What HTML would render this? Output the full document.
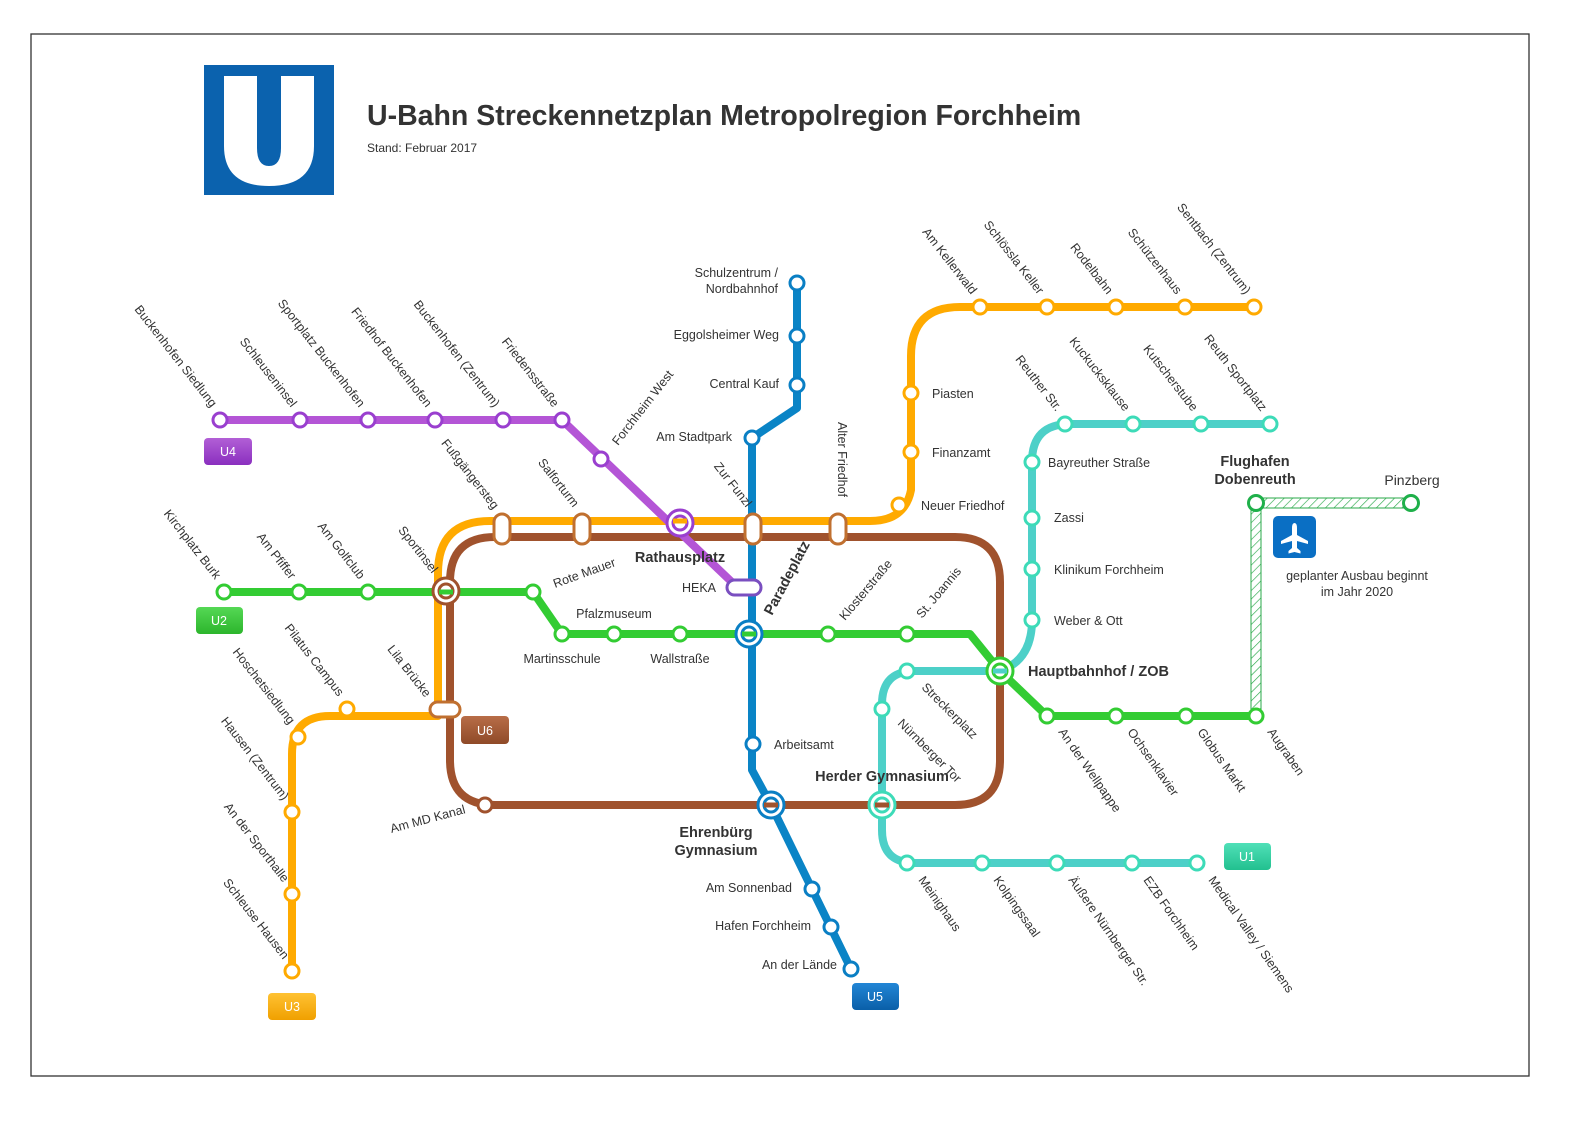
<!DOCTYPE html>
<html><head><meta charset="utf-8"><style>
html,body{margin:0;padding:0;background:#fff;overflow:hidden;width:1587px;height:1123px}
svg{display:block;position:absolute;left:0;top:0}
text{font-family:"Liberation Sans",sans-serif;font-size:12.5px;fill:#333}
.b{font-weight:bold;font-size:14.5px;fill:#333}
.s{fill:#fff;stroke-width:3}
.pu{stroke:#9a3fcf}.or{stroke:#ffaa00}.br{stroke:#a0522d}.gr{stroke:#33cc33}.bl{stroke:#0a7fc4}.te{stroke:#3ddbb8}
.ln{fill:none;stroke-width:8;stroke-linejoin:round}
</style></head><body>
<svg width="1587" height="1123" viewBox="0 0 1587 1123" xmlns="http://www.w3.org/2000/svg">
<defs>
<pattern id="h" width="6" height="6" patternUnits="userSpaceOnUse" patternTransform="rotate(45)"><rect width="6" height="6" fill="#fff"/><line x1="0" y1="0" x2="0" y2="6" stroke="#2aa84a" stroke-width="1.3"/></pattern>
<linearGradient id="gpu" x1="0" y1="0" x2="0" y2="1"><stop offset="0" stop-color="#b25fd6"/><stop offset="1" stop-color="#8a2fbf"/></linearGradient>
<linearGradient id="ggr" x1="0" y1="0" x2="0" y2="1"><stop offset="0" stop-color="#55d855"/><stop offset="1" stop-color="#2cb52c"/></linearGradient>
<linearGradient id="gbr" x1="0" y1="0" x2="0" y2="1"><stop offset="0" stop-color="#b86d48"/><stop offset="1" stop-color="#8f4a28"/></linearGradient>
<linearGradient id="gor" x1="0" y1="0" x2="0" y2="1"><stop offset="0" stop-color="#ffc233"/><stop offset="1" stop-color="#f0a000"/></linearGradient>
<linearGradient id="gbl" x1="0" y1="0" x2="0" y2="1"><stop offset="0" stop-color="#2286d6"/><stop offset="1" stop-color="#0a5fa8"/></linearGradient>
<linearGradient id="gte" x1="0" y1="0" x2="0" y2="1"><stop offset="0" stop-color="#50e0b8"/><stop offset="1" stop-color="#22c08f"/></linearGradient>
</defs>
<rect x="31" y="34" width="1498" height="1042" fill="none" stroke="#333" stroke-width="1.3"/>
<!-- logo -->
<rect x="204" y="65" width="130" height="130" fill="#0b62ae"/>
<path d="M224 76 H257 V148 Q257 166 269 166 Q281 166 281 148 V76 H314 V146 Q314 186 269 186 Q224 186 224 146 Z" fill="#fff"/>
<text x="367" y="125" style="font-size:28.5px;font-weight:bold;fill:#333">U-Bahn Streckennetzplan  Metropolregion Forchheim</text>
<text x="367" y="152" style="font-size:12px">Stand:  Februar 2017</text>

<!-- airport planned -->
<rect x="1251" y="498" width="160" height="10" fill="url(#h)" stroke="#2aa84a" stroke-width="1"/>
<rect x="1251" y="503" width="10" height="213" fill="url(#h)" stroke="#2aa84a" stroke-width="1"/>
<rect x="1273" y="516" width="43" height="42" rx="5" fill="#0a6fc4"/>
<path d="M1294.5 523 q2.5 0 2.5 5 v7 l11 6 v3 l-11 -3 v7 l3.5 3 v2.5 l-6 -1.5 l-6 1.5 v-2.5 l3.5 -3 v-7 l-11 3 v-3 l11 -6 v-7 q0 -5 2.5 -5 z" fill="#fff"/>
<text x="1357" y="580" text-anchor="middle">geplanter Ausbau beginnt</text>
<text x="1357" y="596" text-anchor="middle">im Jahr 2020</text>

<!-- lines -->
<path class="ln" stroke="#a0522d" d="M495 537 H955 Q1000 537 1000 582 V760 Q1000 805 955 805 H495 Q450 805 450 760 V582 Q450 537 495 537 Z"/>
<path class="ln" stroke="#ffaa00" d="M1254 307 H960 Q911 307 911 356 V490 Q905 521 870 521 H490 Q438 521 438 573 V716 H330 Q292 716 292 754 V971"/>
<path class="ln" stroke="#b455d6" d="M220 420 H562 L737 587"/>
<path class="ln" stroke="#0a84c6" d="M797 283 V408 L752 438 V770 L771 805 L851 969"/>
<path class="ln" stroke="#33cc33" d="M224 592 H533 L562 634 H970 L1000 671 L1047 716 H1256"/>
<path class="ln" stroke="#4dd0c8" d="M1270 424 H1070 Q1032 424 1032 462 V620 Q1032 660 1000 671 H915 Q882 671 882 704 V830 Q882 863 915 863 H1197"/>

<g class="s pu">
<circle cx="220" cy="420" r="7"/><circle cx="300" cy="420" r="7"/><circle cx="368" cy="420" r="7"/><circle cx="435" cy="420" r="7"/><circle cx="503" cy="420" r="7"/><circle cx="562" cy="420" r="7"/><circle cx="601" cy="459" r="7"/>
</g>
<g class="s or">
<circle cx="980" cy="307" r="7"/><circle cx="1047" cy="307" r="7"/><circle cx="1116" cy="307" r="7"/><circle cx="1185" cy="307" r="7"/><circle cx="1254" cy="307" r="7"/>
<circle cx="911" cy="393" r="7"/><circle cx="911" cy="452" r="7"/><circle cx="899" cy="505" r="7"/>
<circle cx="347" cy="709" r="7"/><circle cx="298" cy="737" r="7"/><circle cx="292" cy="812" r="7"/><circle cx="292" cy="894" r="7"/><circle cx="292" cy="971" r="7"/>
</g>
<g fill="#fff" stroke-width="3">
<rect x="494" y="514" width="16" height="30" rx="8" stroke="#c07030"/>
<rect x="574" y="514" width="16" height="30" rx="8" stroke="#c07030"/>
<rect x="745" y="514" width="16" height="30" rx="8" stroke="#c07030"/>
<rect x="830" y="514" width="16" height="30" rx="8" stroke="#c07030"/>
<rect x="430" y="702" width="30" height="15" rx="7.5" stroke="#c07030"/>
<rect x="727" y="580" width="34" height="15" rx="7.5" stroke="#7a4fc0"/>
</g>
<g class="s gr">
<circle cx="224" cy="592" r="7"/><circle cx="299" cy="592" r="7"/><circle cx="368" cy="592" r="7"/><circle cx="533" cy="592" r="7"/><circle cx="562" cy="634" r="7"/><circle cx="614" cy="634" r="7"/><circle cx="680" cy="634" r="7"/><circle cx="828" cy="634" r="7"/><circle cx="907" cy="634" r="7"/><circle cx="1047" cy="716" r="7"/><circle cx="1116" cy="716" r="7"/><circle cx="1186" cy="716" r="7"/><circle cx="1256" cy="716" r="7"/>
</g>
<g class="s" stroke="#1fb04a"><circle cx="1256" cy="503" r="7.5"/><circle cx="1411" cy="503" r="7.5"/></g>
<g class="s bl">
<circle cx="797" cy="283" r="7"/><circle cx="797" cy="336" r="7"/><circle cx="797" cy="385" r="7"/><circle cx="752" cy="438" r="7"/><circle cx="753" cy="744" r="7"/><circle cx="812" cy="889" r="7"/><circle cx="831" cy="927" r="7"/><circle cx="851" cy="969" r="7"/>
</g>
<g class="s te">
<circle cx="1270" cy="424" r="7"/><circle cx="1201" cy="424" r="7"/><circle cx="1133" cy="424" r="7"/><circle cx="1065" cy="424" r="7"/><circle cx="1032" cy="462" r="7"/><circle cx="1032" cy="518" r="7"/><circle cx="1032" cy="569" r="7"/><circle cx="1032" cy="620" r="7"/><circle cx="907" cy="671" r="7"/><circle cx="882" cy="709" r="7"/><circle cx="907" cy="863" r="7"/><circle cx="982" cy="863" r="7"/><circle cx="1057" cy="863" r="7"/><circle cx="1132" cy="863" r="7"/><circle cx="1197" cy="863" r="7"/>
</g>
<circle class="s br" cx="485" cy="805" r="7"/>
<g fill="none" stroke-width="3">
<circle cx="680" cy="523" r="13" stroke="#9a3fcf" fill="#fff"/><circle cx="680" cy="523" r="7" stroke="#9a3fcf"/><line x1="673" y1="521" x2="687" y2="521" stroke="#ffaa00" stroke-width="5"/>
<circle cx="446" cy="591" r="13" stroke="#a0522d" fill="#fff"/><circle cx="446" cy="591" r="7" stroke="#a0522d"/><line x1="439" y1="592" x2="453" y2="592" stroke="#33cc33" stroke-width="5"/>
<circle cx="749" cy="634" r="13" stroke="#0a7fc4" fill="#fff"/><circle cx="749" cy="634" r="7" stroke="#0a7fc4"/><line x1="742" y1="634" x2="756" y2="634" stroke="#33cc33" stroke-width="5"/>
<circle cx="1000" cy="671" r="13" stroke="#33cc33" fill="#fff"/><circle cx="1000" cy="671" r="7" stroke="#33cc33"/><line x1="993" y1="671" x2="1007" y2="671" stroke="#4dd0c8" stroke-width="5"/>
<circle cx="771" cy="805" r="13" stroke="#0a7fc4" fill="#fff"/><circle cx="771" cy="805" r="7" stroke="#0a7fc4"/><line x1="764" y1="805" x2="778" y2="805" stroke="#a0522d" stroke-width="5"/>
<circle cx="882" cy="805" r="13" stroke="#3ddbb8" fill="#fff"/><circle cx="882" cy="805" r="7" stroke="#3ddbb8"/><line x1="875" y1="805" x2="889" y2="805" stroke="#a0522d" stroke-width="5"/>
</g>

<g style="font-size:12px">
<rect x="204" y="438" width="48" height="27" rx="4" fill="url(#gpu)"/><text x="228" y="456" text-anchor="middle" style="fill:#fff">U4</text>
<rect x="196" y="607" width="47" height="27" rx="4" fill="url(#ggr)"/><text x="219" y="625" text-anchor="middle" style="fill:#fff">U2</text>
<rect x="461" y="716" width="48" height="28" rx="4" fill="url(#gbr)"/><text x="485" y="735" text-anchor="middle" style="fill:#fff">U6</text>
<rect x="268" y="993" width="48" height="27" rx="4" fill="url(#gor)"/><text x="292" y="1011" text-anchor="middle" style="fill:#fff">U3</text>
<rect x="852" y="983" width="47" height="27" rx="4" fill="url(#gbl)"/><text x="875" y="1001" text-anchor="middle" style="fill:#fff">U5</text>
<rect x="1224" y="843" width="47" height="27" rx="4" fill="url(#gte)"/><text x="1247" y="861" text-anchor="middle" style="fill:#fff">U1</text>
</g>

<text class="b" x="680" y="562" text-anchor="middle">Rathausplatz</text>
<text class="b" transform="translate(772,616) rotate(-62)">Paradeplatz</text>
<text class="b" x="1028" y="676">Hauptbahnhof / ZOB</text>
<text class="b" x="882" y="781" text-anchor="middle">Herder Gymnasium</text>
<text class="b" x="716" y="837" text-anchor="middle">Ehrenbürg</text>
<text class="b" x="716" y="855" text-anchor="middle">Gymnasium</text>
<text class="b" x="1255" y="466" text-anchor="middle">Flughafen</text>
<text class="b" x="1255" y="484" text-anchor="middle">Dobenreuth</text>
<text x="1412" y="485" text-anchor="middle" style="font-size:14px">Pinzberg</text>

<text x="778" y="277" text-anchor="end">Schulzentrum /</text>
<text x="778" y="293" text-anchor="end">Nordbahnhof</text>
<text x="779" y="339" text-anchor="end">Eggolsheimer Weg</text>
<text x="779" y="388" text-anchor="end">Central Kauf</text>
<text x="732" y="441" text-anchor="end">Am Stadtpark</text>
<text x="716" y="592" text-anchor="end">HEKA</text>
<text x="774" y="749">Arbeitsamt</text>
<text x="792" y="892" text-anchor="end">Am Sonnenbad</text>
<text x="811" y="930" text-anchor="end">Hafen Forchheim</text>
<text x="837" y="969" text-anchor="end">An der Lände</text>
<text x="614" y="618" text-anchor="middle">Pfalzmuseum</text>
<text x="562" y="663" text-anchor="middle">Martinsschule</text>
<text x="680" y="663" text-anchor="middle">Wallstraße</text>
<text x="932" y="398">Piasten</text>
<text x="932" y="457">Finanzamt</text>
<text x="921" y="510">Neuer Friedhof</text>
<text x="1048" y="467">Bayreuther Straße</text>
<text x="1054" y="522">Zassi</text>
<text x="1054" y="574">Klinikum Forchheim</text>
<text x="1054" y="625">Weber &amp; Ott</text>

<g text-anchor="end">
<text transform="translate(211,408) rotate(52)">Buckenhofen Siedlung</text>
<text transform="translate(291,408) rotate(52)">Schleuseninsel</text>
<text transform="translate(359,408) rotate(52)">Sportplatz Buckenhofen</text>
<text transform="translate(426,408) rotate(52)">Friedhof Buckenhofen</text>
<text transform="translate(494,408) rotate(52)">Buckenhofen (Zentrum)</text>
<text transform="translate(553,408) rotate(52)">Friedensstraße</text>
<text transform="translate(971,295) rotate(52)">Am Kellerwald</text>
<text transform="translate(1038,295) rotate(52)">Schlössla Keller</text>
<text transform="translate(1107,295) rotate(52)">Rodelbahn</text>
<text transform="translate(1176,295) rotate(52)">Schützenhaus</text>
<text transform="translate(1245,295) rotate(52)">Sentbach (Zentrum)</text>
<text transform="translate(1056,412) rotate(52)">Reuther Str.</text>
<text transform="translate(1124,412) rotate(52)">Kuckucksklause</text>
<text transform="translate(1192,412) rotate(52)">Kutscherstube</text>
<text transform="translate(1261,412) rotate(52)">Reuth Sportplatz</text>
<text transform="translate(493,510) rotate(52)">Fußgängersteg</text>
<text transform="translate(573,508) rotate(52)">Salforturm</text>
<text transform="translate(746,508) rotate(52)">Zur Funzl</text>
<text transform="translate(215,580) rotate(52)">Kirchplatz Burk</text>
<text transform="translate(290,580) rotate(52)">Am Pfiffer</text>
<text transform="translate(359,580) rotate(52)">Am Golfclub</text>
<text transform="translate(432,574) rotate(52)">Sportinsel</text>
<text transform="translate(338,697) rotate(52)">Pilatus Campus</text>
<text transform="translate(425,698) rotate(52)">Lila Brücke</text>
<text transform="translate(289,725) rotate(52)">Hoschetsiedlung</text>
<text transform="translate(283,801) rotate(52)">Hausen (Zentrum)</text>
<text transform="translate(283,883) rotate(52)">An der Sporthalle</text>
<text transform="translate(283,960) rotate(52)">Schleuse Hausen</text>
<text transform="translate(466,813) rotate(-15)">Am MD Kanal</text>
</g>
<text transform="translate(838,422) rotate(90)">Alter Friedhof</text>
<text transform="translate(618,446) rotate(-52)">Forchheim West</text>
<text transform="translate(555,588) rotate(-20)">Rote Mauer</text>
<text transform="translate(845,621) rotate(-50)">Klosterstraße</text>
<text transform="translate(922,619) rotate(-50)">St. Joannis</text>
<text transform="translate(921,688) rotate(45)">Streckerplatz</text>
<text transform="translate(897,724) rotate(45)">Nürnberger Tor</text>
<text transform="translate(1058,732) rotate(55)">An der Wellpappe</text>
<text transform="translate(1127,732) rotate(55)">Ochsenklavier</text>
<text transform="translate(1197,732) rotate(55)">Globus Markt</text>
<text transform="translate(1267,732) rotate(55)">Augraben</text>
<text transform="translate(918,880) rotate(55)">Meinighaus</text>
<text transform="translate(993,880) rotate(55)">Kolpingssaal</text>
<text transform="translate(1068,880) rotate(55)">Äußere Nürnberger Str.</text>
<text transform="translate(1143,880) rotate(55)">EZB Forchheim</text>
<text transform="translate(1208,880) rotate(55)">Medical Valley / Siemens</text>
</svg>
</body></html>
